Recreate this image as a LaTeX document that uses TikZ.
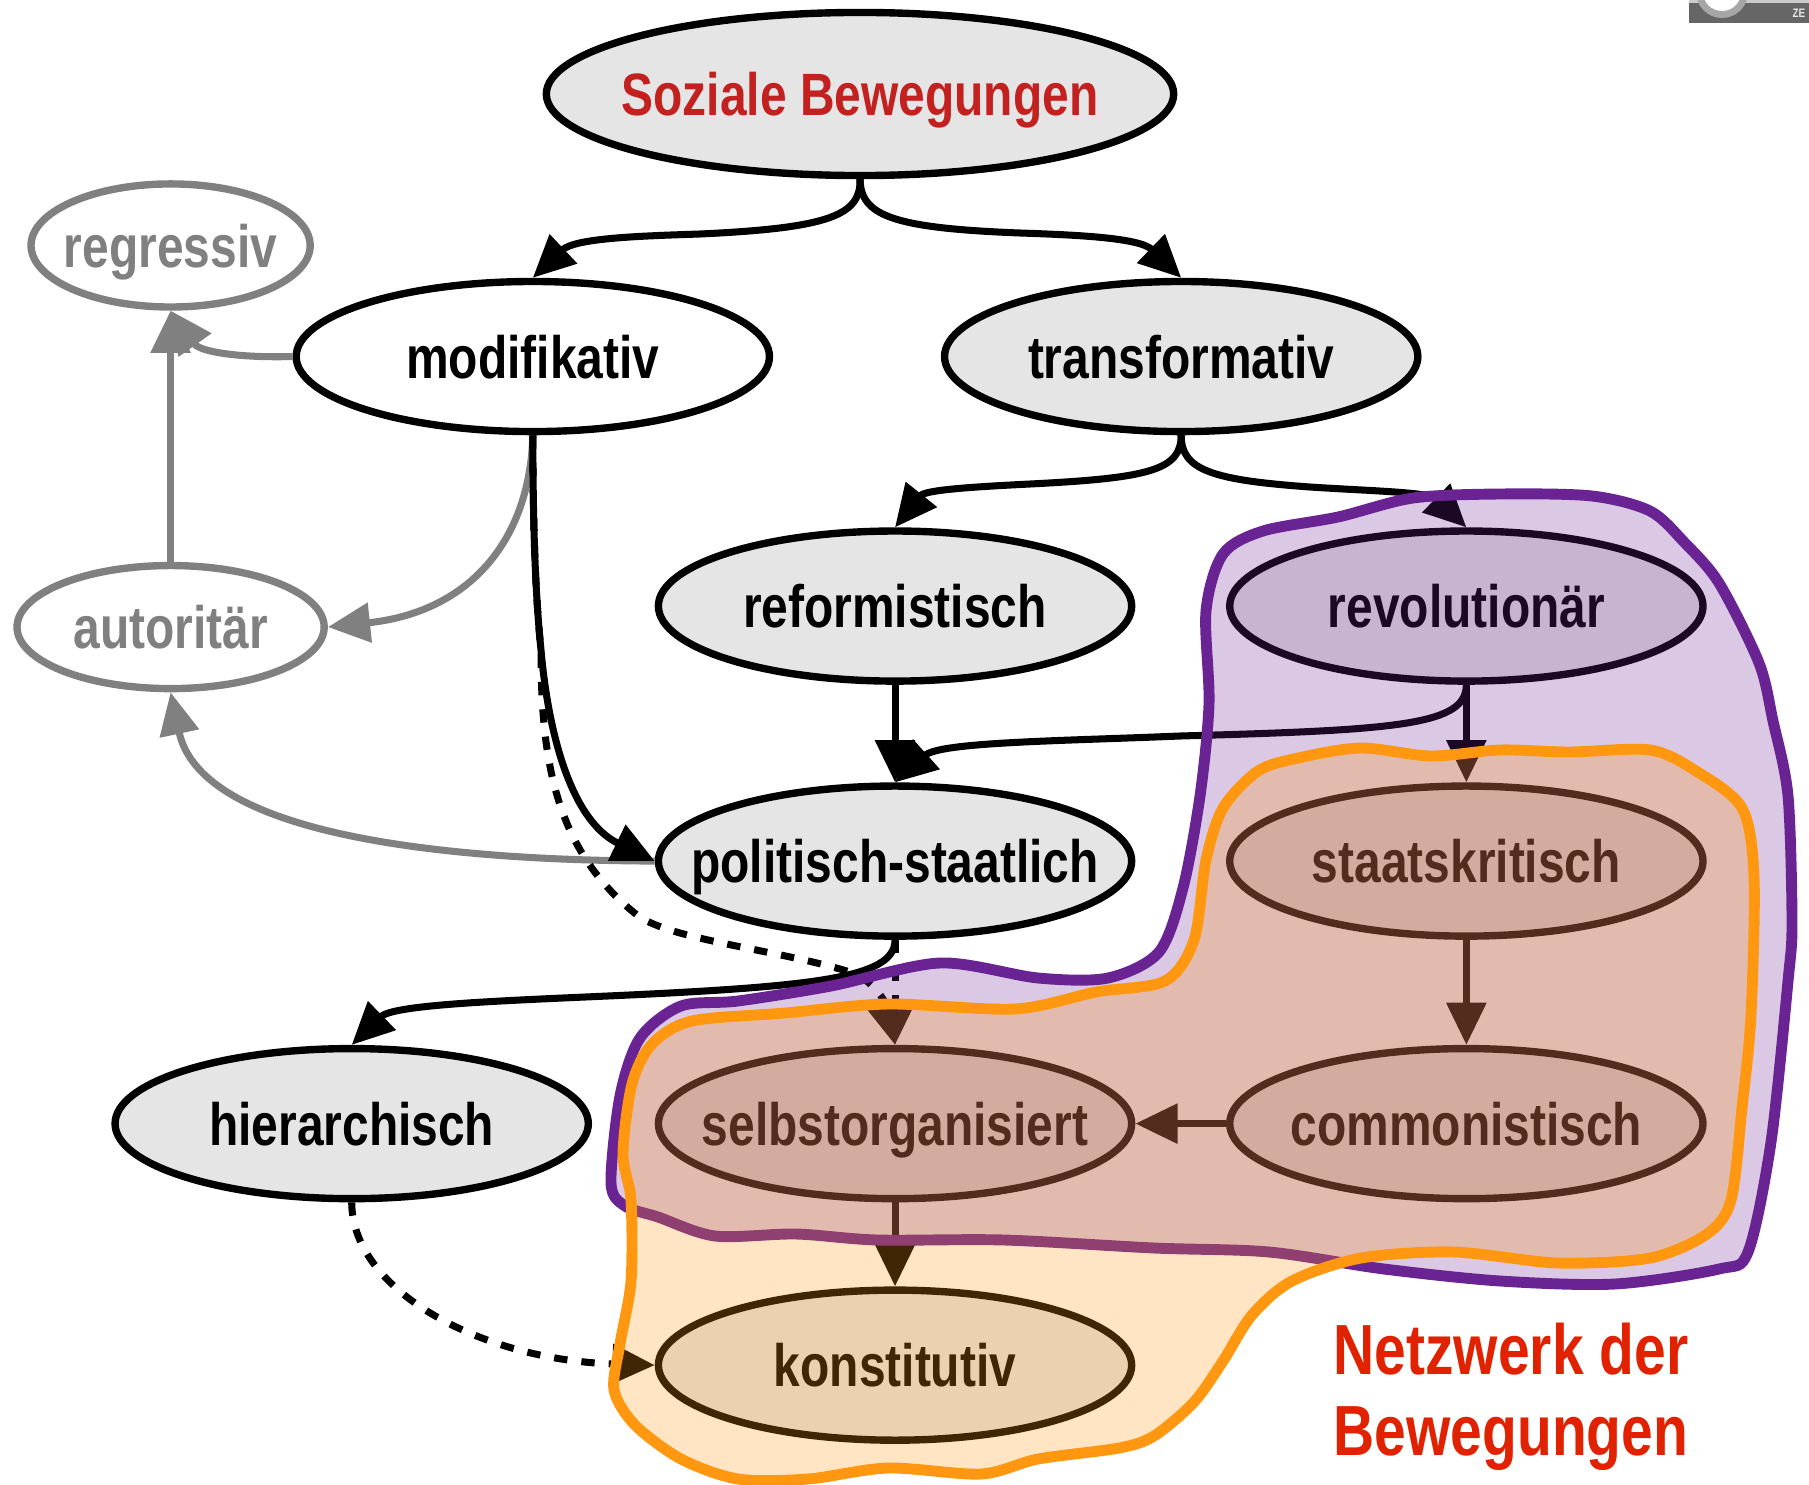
\documentclass[tikz,border=0pt]{standalone}
\usepackage{fontspec}
\setmainfont[FakeStretch=0.802]{Liberation Sans}
\usetikzlibrary{%
  shapes.geometric, arrows.meta, positioning
}
\usepackage{xcolor}
\definecolor{netpurple}{HTML}{6A2392}
\definecolor{netorange}{HTML}{FF9810}
\definecolor{titlered}{HTML}{C3211F}
\definecolor{netred}{HTML}{E02200}
\newcommand{\lbl}[1]{\makebox[0pt]{#1}}
\tikzstyle{mnode} = [%
  ellipse,
  draw=black,
  line width=2.1pt,
  minimum width=4.73cm,
  minimum height=1.5cm,
  fill=black!10,
  inner sep=0pt,
  text height=14.4pt,
  text depth=2pt,
  font=\fontsize{17}{20}\selectfont\bfseries
]
\tikzstyle{gnode} = [%
  mnode,
  draw=gray,
  text=gray,
  fill=white,
  minimum height=1.23cm
]
\tikzstyle{medge} = [%
  draw=black,
  line width=2pt,
  -{Triangle[length=12pt,width=11pt]}
]
\tikzstyle{dedge} = [medge,dash pattern=on 3.8pt off 4pt]
\tikzstyle{gedge} = [medge,draw=gray,-{Triangle[length=12pt,width=11pt,fill=gray]}]
\tikzstyle{hull} = [line width=3.1pt,line join=round,fill opacity=0.25]

\begin{document}
\begin{tikzpicture}[x=0.01cm,y=-0.01cm]
  \useasboundingbox (0,0) rectangle (1809,1485);

  % Nodes
  \node[mnode,text=titlered,minimum width=6.27cm,minimum height=1.63cm] (soz) at (860,94) {\lbl{Soziale Bewegungen}};
  \node[mnode,fill=white,below=0.985cm of soz,xshift=-3.27cm] (mod) {\lbl{modifikativ}};
  \node[mnode,below=0.985cm of soz,xshift=+3.21cm] (trans) {\lbl{transformativ}};
  \node[mnode,below=0.92cm of trans,xshift=-2.86cm] (ref) {\lbl{reformistisch}};
  \node[mnode,below=0.92cm of trans,xshift=+2.85cm] (rev) {\lbl{revolutionär}};
  \node[mnode,below=0.975cm of ref] (pol) {\lbl{politisch-staatlich}};
  \node[mnode,below=0.975cm of rev] (sta) {\lbl{staatskritisch}};
  \node[mnode,below=1.05cm of pol] (sel) {\lbl{selbstorganisiert}};
  \node[mnode,below=1.05cm of sta] (com) {\lbl{commonistisch}};
  \node[mnode,below=1.05cm of pol,xshift=-5.43cm] (hie) {\lbl{hierarchisch}};
  \node[mnode,below=0.84cm of sel] (kon) {\lbl{konstitutiv}};
  \node[gnode,minimum width=3.07cm,below=1.265cm of mod,xshift=-3.62cm] (aut) {\lbl{autoritär}};
  \node[gnode,minimum width=2.79cm,above=2.51cm of aut] (reg) {\lbl{regressiv}};

  % Grey edges
  \draw[gedge] (mod.west) .. controls (240,358) and (200,352) .. (reg.south);
  \draw[gedge] (aut) to (reg);
  \draw[gedge] (mod.south) .. controls (530,540) and (470,612) .. (aut.east);
  \draw[gedge] (pol.west) .. controls (420,860) and (200,830) .. (aut.south);

  % Dashed edges
  \draw[dedge] (pol) to (sel);
  \draw[dedge] (mod.south) .. controls (533,540) and (536,600) .. (541,650) .. controls (541,760) and (555,850) .. (637,915) .. controls (670,940) and (780,950) .. (850,972) .. controls (870,978) and (885,1000) .. (sel.north);
  \draw[dedge] (hie.south) .. controls (352,1290) and (480,1360) .. (kon.west);

  % Black edges
  \draw[medge] (soz.south) .. controls (861,215) and (830,228) .. (700,234) .. controls (640,236) and (575,238) .. (mod.north);
  \draw[medge] (soz.south) .. controls (861,215) and (890,228) .. (1020,233) .. controls (1080,235) and (1140,238) .. (trans.north);
  \draw[medge] (trans.south) .. controls (1181,470) and (1150,478) .. (1030,484) .. controls (970,487) and (925,490) .. (ref.north);
  \draw[medge] (trans.south) .. controls (1181,470) and (1212,480) .. (1310,487) .. controls (1370,491) and (1430,492) .. (rev.north);
  \draw[medge] (mod.south) .. controls (533,540) and (536,600) .. (541,650) .. controls (548,730) and (570,820) .. (pol.west);
  \draw[medge] (ref) to (pol);
  \draw[medge] (rev.south) .. controls (1466,725) and (1400,730) .. (1180,736) .. controls (1060,741) and (940,742) .. (pol.north);
  \draw[medge] (rev) to (sta);
  \draw[medge] (pol.south) .. controls (895,975) and (830,985) .. (650,994) .. controls (530,1000) and (395,1003) .. (hie.north);
  \draw[medge] (sta) to (com);
  \draw[medge] (com) to (sel);
  \draw[medge] (sel) to (kon);

  % Hulls
  \draw[hull,draw=netpurple,fill=netpurple] plot[smooth cycle,tension=0.5] coordinates {
    (1206,611) (1223,554) (1263,531) (1338,517) (1413,498) (1500,494) (1592,496) (1650,511)
    (1684,542) (1719,583) (1759,663) (1773,721) (1788,796) (1792,923) (1788,981) (1771,1142)
    (1748,1252) (1719,1269) (1615,1284) (1500,1281) (1384,1269) (1269,1252) (1154,1248) (1004,1240)
    (877,1240) (796,1234) (715,1236) (658,1217) (625,1206) (611,1183) (620,1096) (640,1038)
    (681,1006) (738,1001) (831,986) (940,963) (1038,978) (1108,978) (1159,952) (1183,888)
    (1200,796) (1209,704)};
  \draw[hull,draw=netorange,fill=netorange] plot[smooth cycle,tension=0.5] coordinates {
    (1206,860) (1223,808) (1258,771) (1298,758) (1361,748) (1431,756) (1500,750) (1569,752)
    (1650,750) (1696,771) (1742,808) (1754,877) (1751,1015) (1742,1108) (1731,1200) (1707,1234)
    (1650,1258) (1558,1263) (1454,1252) (1361,1258) (1292,1281) (1252,1315) (1223,1361) (1194,1402)
    (1154,1436) (1119,1448) (1038,1459) (981,1474) (888,1468) (808,1479) (738,1479) (681,1459)
    (635,1425) (614,1390) (620,1344) (631,1281) (631,1200) (623,1154) (632,1084) (652,1044)
    (692,1021) (785,1013) (888,1004) (1015,1009) (1096,992) (1165,981) (1194,940)};

  % Label
  \node[anchor=west,align=left,text=netred,inner sep=0pt,font=\fontsize{20.2}{23}\selectfont\bfseries] (net) at (1333,1397) {Netzwerk der\\Bewegungen};

  % Badge
  \begin{scope}
    \clip (1689,0) rectangle (1809,23);
    \fill[black!60] (1689,0) rectangle (1809,23);
    \fill[black!20] (1689,0) rectangle (1809,3);
    \fill[black!35] (1722,-8) circle (26);
    \fill[white] (1722,-8) circle (19);
  \end{scope}
  \node[text=black!10,inner sep=0pt,font=\fontsize{3.5}{4}\selectfont\bfseries] (ze) at (1799,13) {ZE};
\end{tikzpicture}
\end{document}
